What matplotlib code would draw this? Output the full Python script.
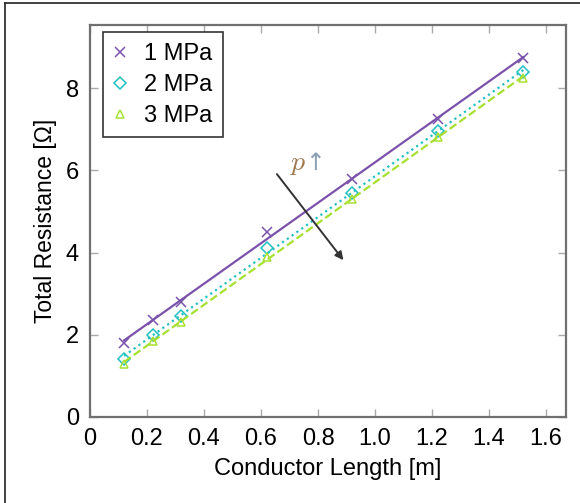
import numpy as np
import matplotlib
matplotlib.use("Agg")
import matplotlib.pyplot as plt
from matplotlib.lines import Line2D

plt.rcParams['font.family'] = ['Liberation Sans', 'DejaVu Sans']
plt.rcParams['mathtext.fontset'] = 'cm'

# conductor length [m]
length = [0.12, 0.22, 0.32, 0.62, 0.92, 1.22, 1.52]
# total resistance [ohm] per pressure
r_1mpa = [1.80, 2.35, 2.80, 4.50, 5.80, 7.25, 8.72]
r_2mpa = [1.42, 2.00, 2.45, 4.10, 5.45, 6.95, 8.40]
r_3mpa = [1.28, 1.85, 2.32, 3.90, 5.30, 6.82, 8.25]
labels = ["1 MPa", "2 MPa", "3 MPa"]

xticks = [0, 0.2, 0.4, 0.6, 0.8, 1.0, 1.2, 1.4, 1.6]
xticklabels = ["0", "0.2", "0.4", "0.6", "0.8", "1.0", "1.2", "1.4", "1.6"]
yticks = [0, 2, 4, 6, 8]

colors = ["#7b52ab", "#22c0c0", "#a8e030"]
markers = ["x", "D", "^"]
styles = ["-", ":", "--"]

fig = plt.figure(figsize=(5.8, 5.03), dpi=100)
ax = fig.add_axes([0.155, 0.171, 0.821, 0.779])

x = np.array(length)
for ys, c, m, ls, lab in zip([r_1mpa, r_2mpa, r_3mpa], colors, markers, styles, labels):
    ys = np.array(ys)
    k, b = np.polyfit(x, ys, 1)  # linear fit through the measurements
    ax.plot(x, k * x + b, ls, color=c, lw=1.6)
    ms = 6.5 if m == "x" else 6
    ax.plot(x, ys, m, color=c, mfc="none", ms=ms, mew=1.1, label=lab)

# pressure trend arrow
ax.annotate("", xy=(0.895, 3.76), xytext=(0.65, 5.96),
            arrowprops=dict(arrowstyle="-|>", color="#333333", lw=1.4,
                            mutation_scale=12))
ax.text(0.73, 6.0, r"$p$", color="#a07850", fontsize=20, ha="center")
ax.text(0.79, 6.0, "\u2191", color="#8aa0b8", fontsize=17, ha="center",
        family="DejaVu Sans")

ax.set_xlim(0, 1.67)
ax.set_ylim(0, 9.53)
ax.set_xticks(xticks)
ax.set_xticklabels(xticklabels)
ax.set_yticks(yticks)
ax.tick_params(direction="in", length=6, width=1.0, color="#aaaaaa",
               top=True, right=True, labelsize=17, pad=8)
for s in ax.spines.values():
    s.set_color("#707070")
    s.set_linewidth(1.6)

ax.set_xlabel("Conductor Length [m]", fontsize=17, labelpad=6)
ax.set_ylabel("Total Resistance [Ω]", fontsize=16.5, labelpad=6)

leg = ax.legend(loc="upper left", fontsize=17, fancybox=False, framealpha=1,
                edgecolor="#333333", handlelength=0.6, handletextpad=0.7,
                borderpad=0.45, labelspacing=0.38, borderaxespad=0,
                bbox_to_anchor=(0.027, 0.982))
leg.get_frame().set_linewidth(1.2)

# outer image frame (left and top edges)
fig.add_artist(Line2D([0.009, 0.009], [0.0, 0.994], color="#222222", lw=1.2))
fig.add_artist(Line2D([0.009, 1.0], [0.994, 0.994], color="#222222", lw=1.2))

fig.savefig("out.png", dpi=100)
